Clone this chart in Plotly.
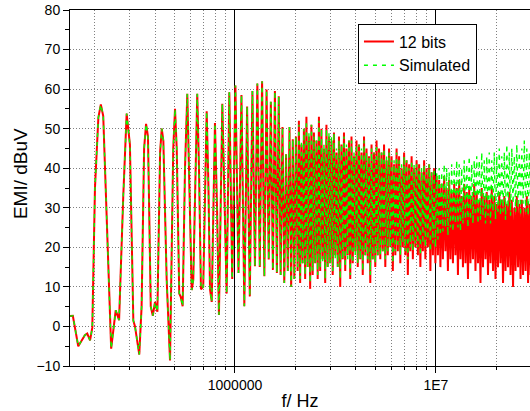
import numpy as np
import plotly.graph_objects as go

# ---- data (frequency in kHz, EMI in dBuV) ----
# Below ~2 MHz both curves coincide, so one shared list is used for that part.
low_f_khz = [150, 156, 166, 179, 184, 190, 195, 201, 209, 215, 221, 230, 242, 255, 265,
             278, 289, 300, 312, 318, 334, 343, 353, 361, 369, 381, 390, 400, 411, 424,
             432, 440, 457, 475, 493, 503, 513, 528, 537, 549, 564, 579, 590, 609, 620,
             649, 662, 677, 695, 723, 738, 751, 766, 795, 814, 832, 865, 882, 909, 937,
             950, 969,
             1005, 1041, 1077, 1113, 1149, 1185, 1221, 1257, 1292, 1328, 1364, 1400, 1436,
             1472, 1508, 1544, 1580, 1616, 1651, 1687, 1723, 1759, 1795, 1831, 1867, 1903,
             1939, 1974, 2010]
low_emi = [2.6, 2.7, -5.0, -2.2, -1.8, -3.5, -0.3, 35, 52.8, 56.1, 53.2, 28.8, -5.6, 4.1, 1.6,
           32.9, 53.8, 46, 1.5, 0, -7.1, 5, 45, 51.2, 48, 5, 2.7, 6.2, 3.7, 44,
           50, 47, 12, -8.6, 45, 55.0, 45, 8.3, 7.5, 5.1, 40, 58.8, 40, 9.2, 11.7,
           58.8, 40, 9.4, 10, 54.4, 35, 9.4, 6.2, 51.4, 30, 2.9, 56.3, 35, 8.3, 59.2,
           40, 12,
           60.9, 13.5, 58.5, 5.1, 55.6, 7.6, 59.5, 15.2, 61.4, 15.0, 62.0, 12.7, 59.9,
           16.9, 56.8, 14.3, 59.5, 13.5, 58.2, 13.0, 50.4, 11.0, 43.5, 14.0, 50.4, 10.0,
           47.3, 12.0, 48.0]

# Dense part (2.05 MHz .. 30 MHz): upper / lower excursions of each curve
band_f_start_hz = 2.05e6
band_f_stop_hz = 3.0e7
red_band_hi = [52, 46, 50, 53, 48, 51, 49, 47, 53, 50, 45, 51, 48,
               47, 49, 44, 48, 46, 49, 45, 47, 48, 43, 47, 46, 44, 48, 45, 43, 46, 44, 47, 45,
               44, 46, 42, 45, 43, 41, 45, 43, 40, 44, 42, 41, 43, 40, 42, 41, 39, 42, 40, 41, 39, 40, 38,
               37, 36, 38, 35, 37, 34, 36, 35, 37, 33, 36, 34, 35, 33, 36, 34, 32, 35, 33, 34, 32, 35, 33,
               31, 34, 32, 33, 31, 34, 32, 30, 33, 31, 32, 30, 33, 31, 32]
red_band_lo = [14, 11, 16, 12, 15, 9.5, 13, 16, 12, 14, 17, 11, 15,
               16, 13, 18, 15, 10, 17, 14, 18, 12, 16, 19, 15, 17, 13, 18, 16, 11, 17, 15, 18,
               17, 19, 15, 18, 20, 14, 18, 19, 16, 20, 18, 13, 19, 17, 20, 18, 15, 19, 17, 20, 14, 18, 16,
               18, 15, 17, 19, 14, 17, 16, 18, 13, 17, 15, 16, 12, 16, 17, 14, 16, 11, 15, 17, 13, 16, 14,
               12, 15, 16, 11, 14, 15, 13, 10, 14, 15, 12, 13, 14, 11, 13]
green_band_hi = [51, 47, 50, 52, 49, 51, 48, 47, 52, 50, 46, 50, 49,
                 48, 49, 45, 47, 46, 48, 46, 47, 47, 44, 46, 46, 45, 47, 44, 43, 45, 44, 46, 44,
                 44, 45, 43, 44, 42, 42, 44, 42, 41, 43, 42, 40, 42, 41, 41, 40, 40, 41, 39, 41, 39, 40, 39,
                 40, 39, 41, 40, 39, 41, 40, 42, 41, 40, 42, 41, 43, 41, 42, 43, 42, 44, 42, 43, 44, 42, 44,
                 43, 45, 43, 44, 46, 44, 45, 43, 46, 44, 45, 47, 45, 44, 46]
green_band_lo = [15, 12, 16, 13, 15, 11, 14, 16, 13, 15, 16, 12, 15,
                 16, 14, 17, 15, 12, 17, 15, 17, 13, 16, 18, 16, 17, 14, 18, 17, 13, 17, 16, 18,
                 18, 19, 17, 19, 20, 16, 19, 20, 18, 21, 19, 17, 20, 19, 21, 20, 18, 21, 20, 22, 19, 21, 20,
                 22, 23, 24, 25, 23, 25, 24, 26, 25, 24, 26, 27, 25, 27, 26, 28, 26, 27, 28, 26, 28, 26, 29,
                 27, 29, 28, 29, 27, 30, 28, 31, 29, 30, 28, 31, 29, 28, 30]

x_tick_vals = [1e6, 1e7]
x_tick_text = ["1000000", "1E7"]
x_minor_vals = [2e5, 3e5, 4e5, 5e5, 6e5, 7e5, 8e5, 9e5,
                2e6, 3e6, 4e6, 5e6, 6e6, 7e6, 8e6, 9e6, 2e7, 3e7]


def interleave(lo, hi):
    out = []
    for a, b in zip(lo, hi):
        out += [a, b]
    return out


band_f = np.geomspace(band_f_start_hz, band_f_stop_hz, 2 * len(red_band_hi))
f_all = np.concatenate([np.array(low_f_khz, dtype=float) * 1e3, band_f])
red_y = low_emi + interleave(red_band_lo, red_band_hi)
green_y = low_emi + interleave(green_band_lo, green_band_hi)

FONT = "Arial, 'Liberation Sans', sans-serif"

fig = go.Figure()
fig.add_trace(go.Scatter(x=f_all, y=red_y, mode="lines", name="12 bits",
                         line=dict(color="#ff0000", width=2)))
fig.add_trace(go.Scatter(x=f_all, y=green_y, mode="lines", name="Simulated",
                         line=dict(color="#00ff00", width=1.4, dash="4px,5px")))

fig.update_layout(
    width=530, height=411,
    margin=dict(l=70, r=0, t=10, b=45),
    paper_bgcolor="white", plot_bgcolor="white",
    font=dict(family=FONT, size=14, color="black"),
    showlegend=True,
    legend=dict(x=0.626, y=0.962, xanchor="left", yanchor="top",
                bgcolor="white", bordercolor="black", borderwidth=1,
                font=dict(size=16, family=FONT), tracegroupgap=0),
    annotations=[dict(text="EMI/ dBuV", textangle=-90, xref="paper", yref="paper",
                      x=-0.108, y=0.54, xanchor="center", yanchor="middle",
                      showarrow=False, font=dict(size=19, family=FONT))],
)
fig.update_xaxes(
    type="log", range=[5.179, 7.468],
    tickmode="array", tickvals=x_tick_vals, ticktext=x_tick_text,
    ticks="outside", ticklen=6, tickcolor="black",
    showline=True, linecolor="black", linewidth=1, mirror=True,
    showgrid=True, gridcolor="black", gridwidth=1,
    minor=dict(tickvals=x_minor_vals, ticks="outside", ticklen=3, tickcolor="black",
               showgrid=True, gridcolor="#808080", griddash="1px,2px", gridwidth=1),
    title=dict(text="f/ Hz", font=dict(size=18, family=FONT), standoff=2),
    tickfont=dict(size=14, family=FONT),
)
fig.update_yaxes(
    range=[-10, 80], dtick=10, tick0=0,
    ticks="outside", ticklen=6, tickcolor="black",
    showline=True, linecolor="black", linewidth=1, mirror=False,
    showgrid=True, gridcolor="#808080", griddash="1px,2px", gridwidth=1,
    zeroline=False,
    minor=dict(dtick=5, ticks="outside", ticklen=4, tickcolor="black", showgrid=False),
    tickfont=dict(size=14, family=FONT),
)

fig.write_html("out.html")
